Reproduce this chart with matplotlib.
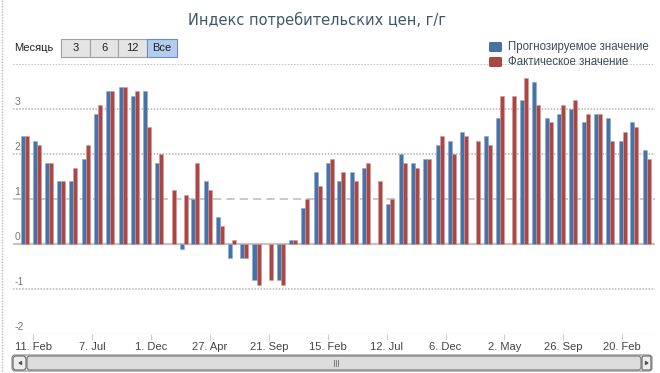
import numpy as np
import pandas as pd
import matplotlib
matplotlib.use('Agg')
import matplotlib.pyplot as plt
import matplotlib.patches as mpatches

# monthly data, Jan 2008 .. Apr 2012
months = pd.date_range('2008-01-01', periods=52, freq='MS') + pd.Timedelta(days=20)

# Прогнозируемое значение (nan = no forecast)
forecast = [2.4, 2.3, 1.8, 1.4, 1.4, 1.9, 2.9, 3.4, 3.5, 3.3,
            3.4, 1.8, np.nan, -0.1, 1.0, 1.4, 0.6, -0.3, -0.3, -0.8,
            np.nan, -0.8, 0.1, 0.8, 1.6, 1.8, 1.4, 1.6, 1.7, np.nan,
            0.9, 2.0, 1.8, 1.9, 2.2, 2.3, 2.5, np.nan, 2.4, 2.8,
            np.nan, 3.2, 3.6, 2.8, 2.9, 3.0, 2.7, 2.9, 2.8, 2.3,
            2.7, 2.1]

# Фактическое значение
actual = [2.4, 2.2, 1.8, 1.4, 1.7, 2.2, 3.1, 3.4, 3.5, 3.4,
          2.6, 2.0, 1.2, 1.1, 1.8, 1.2, 0.4, 0.1, -0.3, -0.9,
          -0.8, -0.9, 0.1, 1.0, 1.3, 1.9, 1.6, 1.4, 1.8, 1.4,
          1.0, 1.8, 1.7, 1.9, 2.4, 2.0, 2.4, 2.3, 2.2, 3.3,
          3.3, 3.7, 3.1, 2.7, 3.1, 3.2, 2.9, 2.9, 2.3, 2.5,
          2.6, 1.9]

tick_dates = pd.date_range('2008-02-11', periods=11, freq='147D')
tick_labels = [f"{d.day}. {d.strftime('%b')}" for d in tick_dates]
y_levels = [-2, -1, 0, 1, 2, 3, 4]

title = 'Индекс потребительских цен, г/г'
labels = ['Прогнозируемое значение', 'Фактическое значение']
buttons = ['3', '6', '12', 'Все']

blue = '#4572A7'
red = '#AA4643'

W, H = 660, 373
fig = plt.figure(figsize=(W / 100, H / 100), dpi=100)
fig.patch.set_facecolor('white')

# plot area in pixels: x 13..655, y 64..334
ax = fig.add_axes([13 / W, 1 - 334 / H, 642 / W, 270 / H])
ax.set_facecolor('none')

width = pd.Timedelta(days=10)
ax.bar(months - width / 2, forecast, width=width, color=blue,
       edgecolor='#8FA9CF', linewidth=0.4, zorder=3)
ax.bar(months + width / 2, actual, width=width, color=red,
       edgecolor='#D49A98', linewidth=0.4, zorder=3)

ax.set_xlim(pd.Timestamp('2007-12-22'), pd.Timestamp('2012-05-12'))
ax.set_ylim(-2, 4)

# grid lines
for v in y_levels:
    if v == 0:
        ax.axhline(v, color='#C4C4C4', lw=1.6, zorder=1)
    elif v == 1:
        ax.axhline(v, color='#C0C0C0', lw=1.2, ls=(0, (5, 3)), zorder=1)
    elif v == -2:
        ax.axhline(v, color='#C0D0E0', lw=1.0, ls=(0, (1, 1)), zorder=1)
    else:
        ax.axhline(v, color='#B4B4B4', lw=1.1, ls=(0, (1, 1)), zorder=1)

# y labels sit above the lines, inside the plot
for v in y_levels[:-1]:
    ax.annotate(str(v), xy=(0, v), xycoords=('axes fraction', 'data'),
                xytext=(1, 1.5), textcoords='offset points',
                ha='left', va='bottom', fontsize=7.5, color='#777777',
                family='Liberation Sans')
ax.set_yticks([])

for s in ['left', 'right', 'top', 'bottom']:
    ax.spines[s].set_visible(False)

ax.set_xticks(tick_dates)
ax.set_xticklabels(tick_labels, fontsize=8, color='#444444', family='Liberation Sans')
ax.tick_params(axis='x', length=4, color='#C0D0E0', pad=2)

# overlay in pixel coordinates for title, legend, range selector and scrollbar
ov = fig.add_axes([0, 0, 1, 1])
ov.set_xlim(0, W)
ov.set_ylim(H, 0)
ov.axis('off')
ov.patch.set_alpha(0)

ov.text(317, 20, title, ha='center', va='center', fontsize=10.5,
        color='#3E576F', family='DejaVu Sans')

# legend
for i, (lab, c) in enumerate(zip(labels, [blue, red])):
    y0 = 47 + i * 15
    ov.add_patch(mpatches.FancyBboxPatch((489, y0 - 5), 13, 10,
                                         boxstyle='round,pad=0,rounding_size=1.5',
                                         fc=c, ec='none'))
    ov.text(508, y0, lab, ha='left', va='center', fontsize=8.3,
            color='#3E4B5C', family='Liberation Sans')

# range selector
ov.text(14, 48, 'Месяць', ha='left', va='center', fontsize=8,
        color='#222222', family='Liberation Sans')
btn_edges = [61, 90, 118, 147, 177]
for i, b in enumerate(buttons):
    x0, x1 = btn_edges[i], btn_edges[i + 1]
    sel = b == 'Все'
    ov.add_patch(mpatches.Rectangle((x0, 39), x1 - x0, 18,
                                    fc='#B4CCF0' if sel else '#E4E4E4',
                                    ec='#6C8CC0' if sel else '#A0A0A0', lw=0.8))
    ov.text((x0 + x1) / 2, 48, b, ha='center', va='center', fontsize=8,
            color='#222222', family='Liberation Sans')

# scrollbar
ov.add_patch(mpatches.FancyBboxPatch((12, 355), 640, 16,
                                     boxstyle='round,pad=0,rounding_size=3',
                                     fc='#E8E8E8', ec='#888888', lw=0.8))
ov.add_patch(mpatches.FancyBboxPatch((27, 356), 614, 14,
                                     boxstyle='round,pad=0,rounding_size=3',
                                     fc='#DCDCDC', ec='#777777', lw=0.8))
ov.add_patch(mpatches.FancyBboxPatch((13, 356), 13, 14,
                                     boxstyle='round,pad=0,rounding_size=3',
                                     fc='#EDEDED', ec='#666666', lw=0.8))
ov.add_patch(mpatches.FancyBboxPatch((642, 356), 9, 14,
                                     boxstyle='round,pad=0,rounding_size=2',
                                     fc='#EDEDED', ec='#666666', lw=0.8))
ov.plot([19.5, 21.5, 21.5, 19.5], [363, 361.5, 364.5, 363], color='#555555', lw=1)
ov.plot([647.5, 645.5, 645.5, 647.5], [363, 361.5, 364.5, 363], color='#555555', lw=1)
for gx in [334, 336, 338]:
    ov.plot([gx, gx], [360, 366], color='#888888', lw=0.8)

# dotted left border
ov.plot([1.5, 1.5], [0, H], color='#BBBBBB', lw=1, ls=(0, (1, 1)))

fig.savefig('out.png', dpi=100)
